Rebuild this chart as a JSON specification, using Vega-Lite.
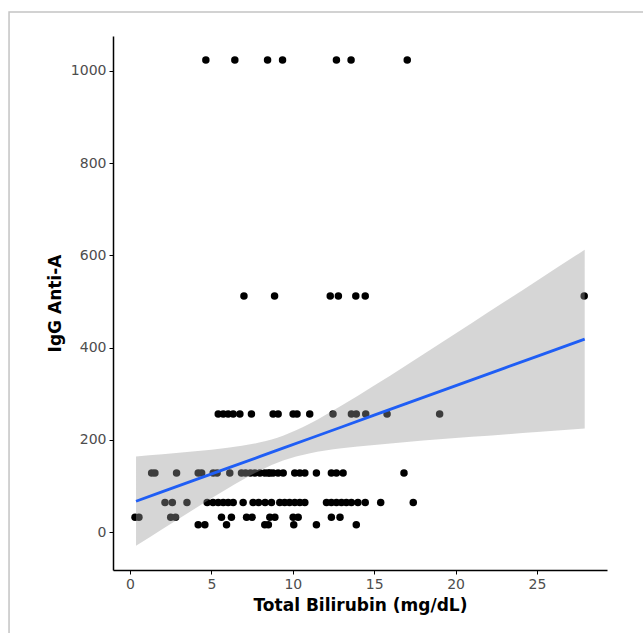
{
  "$schema": "https://vega.github.io/schema/vega-lite/v6.json",
  "autosize": "none",
  "width": 494,
  "height": 534,
  "padding": {"left": 113, "top": 36, "right": 36, "bottom": 63},
  "background": "white",
  "config": {
    "view": {"stroke": null},
    "axis": {
      "grid": false,
      "domainColor": "black",
      "domainWidth": 1.5,
      "tickColor": "black",
      "tickWidth": 1,
      "tickSize": 4,
      "labelColor": "#4d4d4d",
      "labelFont": "DejaVu Sans",
      "labelFontSize": 14,
      "labelPadding": 3,
      "titleFont": "DejaVu Sans",
      "titleFontSize": 17,
      "titleFontWeight": "bold",
      "titleColor": "black",
      "titlePadding": 6
    }
  },
  "datasets": {
    "points": [
      {"bilirubin": 4.66, "igg": 1024}, {"bilirubin": 6.44, "igg": 1024}, {"bilirubin": 8.45, "igg": 1024}, {"bilirubin": 9.37, "igg": 1024}, {"bilirubin": 12.68, "igg": 1024}, {"bilirubin": 13.58, "igg": 1024}, {"bilirubin": 17.03, "igg": 1024},
      {"bilirubin": 7.0, "igg": 512}, {"bilirubin": 8.88, "igg": 512}, {"bilirubin": 12.3, "igg": 512}, {"bilirubin": 12.8, "igg": 512}, {"bilirubin": 13.87, "igg": 512}, {"bilirubin": 14.45, "igg": 512}, {"bilirubin": 27.9, "igg": 512},
      {"bilirubin": 5.42, "igg": 256}, {"bilirubin": 5.73, "igg": 256}, {"bilirubin": 6.03, "igg": 256}, {"bilirubin": 6.34, "igg": 256}, {"bilirubin": 6.75, "igg": 256}, {"bilirubin": 7.46, "igg": 256}, {"bilirubin": 8.79, "igg": 256}, {"bilirubin": 9.1, "igg": 256}, {"bilirubin": 10.02, "igg": 256}, {"bilirubin": 10.26, "igg": 256}, {"bilirubin": 11.04, "igg": 256}, {"bilirubin": 12.47, "igg": 256}, {"bilirubin": 13.6, "igg": 256}, {"bilirubin": 13.9, "igg": 256}, {"bilirubin": 14.48, "igg": 256}, {"bilirubin": 15.79, "igg": 256}, {"bilirubin": 19.02, "igg": 256},
      {"bilirubin": 1.33, "igg": 128}, {"bilirubin": 1.53, "igg": 128}, {"bilirubin": 2.86, "igg": 128}, {"bilirubin": 4.19, "igg": 128}, {"bilirubin": 4.4, "igg": 128}, {"bilirubin": 5.11, "igg": 128}, {"bilirubin": 5.35, "igg": 128}, {"bilirubin": 6.13, "igg": 128}, {"bilirubin": 6.85, "igg": 128}, {"bilirubin": 7.1, "igg": 128}, {"bilirubin": 7.4, "igg": 128}, {"bilirubin": 7.67, "igg": 128}, {"bilirubin": 7.98, "igg": 128}, {"bilirubin": 8.28, "igg": 128}, {"bilirubin": 8.49, "igg": 128}, {"bilirubin": 8.6, "igg": 128}, {"bilirubin": 8.79, "igg": 128}, {"bilirubin": 9.1, "igg": 128}, {"bilirubin": 9.41, "igg": 128}, {"bilirubin": 10.12, "igg": 128}, {"bilirubin": 10.43, "igg": 128}, {"bilirubin": 10.74, "igg": 128}, {"bilirubin": 11.45, "igg": 128}, {"bilirubin": 12.37, "igg": 128}, {"bilirubin": 12.68, "igg": 128}, {"bilirubin": 13.09, "igg": 128}, {"bilirubin": 16.83, "igg": 128},
      {"bilirubin": 2.15, "igg": 64}, {"bilirubin": 2.6, "igg": 64}, {"bilirubin": 3.5, "igg": 64}, {"bilirubin": 4.74, "igg": 64}, {"bilirubin": 5.1, "igg": 64}, {"bilirubin": 5.42, "igg": 64}, {"bilirubin": 5.73, "igg": 64}, {"bilirubin": 6.03, "igg": 64}, {"bilirubin": 6.34, "igg": 64}, {"bilirubin": 6.95, "igg": 64}, {"bilirubin": 7.56, "igg": 64}, {"bilirubin": 7.9, "igg": 64}, {"bilirubin": 8.3, "igg": 64}, {"bilirubin": 8.69, "igg": 64}, {"bilirubin": 9.2, "igg": 64}, {"bilirubin": 9.5, "igg": 64}, {"bilirubin": 9.8, "igg": 64}, {"bilirubin": 10.12, "igg": 64}, {"bilirubin": 10.43, "igg": 64}, {"bilirubin": 10.74, "igg": 64}, {"bilirubin": 12.07, "igg": 64}, {"bilirubin": 12.37, "igg": 64}, {"bilirubin": 12.68, "igg": 64}, {"bilirubin": 12.99, "igg": 64}, {"bilirubin": 13.29, "igg": 64}, {"bilirubin": 13.6, "igg": 64}, {"bilirubin": 14.0, "igg": 64}, {"bilirubin": 14.45, "igg": 64}, {"bilirubin": 15.4, "igg": 64}, {"bilirubin": 17.4, "igg": 64},
      {"bilirubin": 0.31, "igg": 32}, {"bilirubin": 0.55, "igg": 32}, {"bilirubin": 2.5, "igg": 32}, {"bilirubin": 2.8, "igg": 32}, {"bilirubin": 5.62, "igg": 32}, {"bilirubin": 6.23, "igg": 32}, {"bilirubin": 7.16, "igg": 32}, {"bilirubin": 7.5, "igg": 32}, {"bilirubin": 8.59, "igg": 32}, {"bilirubin": 8.9, "igg": 32}, {"bilirubin": 10.02, "igg": 32}, {"bilirubin": 10.33, "igg": 32}, {"bilirubin": 12.37, "igg": 32}, {"bilirubin": 12.9, "igg": 32},
      {"bilirubin": 4.19, "igg": 16}, {"bilirubin": 4.6, "igg": 16}, {"bilirubin": 5.93, "igg": 16}, {"bilirubin": 8.28, "igg": 16}, {"bilirubin": 8.5, "igg": 16}, {"bilirubin": 10.06, "igg": 16}, {"bilirubin": 11.45, "igg": 16}, {"bilirubin": 13.9, "igg": 16}
    ],
    "band": [
      {"bilirubin": 0.37, "fit": 66.7, "lower": -30, "upper": 164},
      {"bilirubin": 2, "fit": 87.5, "lower": 6.5, "upper": 168.5},
      {"bilirubin": 4, "fit": 113, "lower": 51, "upper": 175},
      {"bilirubin": 6, "fit": 138.6, "lower": 94.5, "upper": 182.7},
      {"bilirubin": 8, "fit": 164, "lower": 133.5, "upper": 194.5},
      {"bilirubin": 9.4, "fit": 182, "lower": 155, "upper": 209},
      {"bilirubin": 11, "fit": 202.4, "lower": 170.5, "upper": 234.3},
      {"bilirubin": 13, "fit": 227.9, "lower": 181.6, "upper": 274.2},
      {"bilirubin": 15, "fit": 253.4, "lower": 189, "upper": 317.7},
      {"bilirubin": 17, "fit": 278.9, "lower": 195.3, "upper": 362.5},
      {"bilirubin": 19, "fit": 304.4, "lower": 201, "upper": 407.8},
      {"bilirubin": 21, "fit": 330, "lower": 206.5, "upper": 453.5},
      {"bilirubin": 23, "fit": 355.5, "lower": 211.7, "upper": 499.3},
      {"bilirubin": 25, "fit": 381, "lower": 216.8, "upper": 545.2},
      {"bilirubin": 27.93, "fit": 418.4, "lower": 224.4, "upper": 612.4}
    ]
  },
  "layer": [
    {
      "mark": {"type": "rect", "fill": null, "stroke": "#c4c4c4", "strokeWidth": 1.5, "clip": false},
      "data": {"values": [{}]},
      "encoding": {
        "x": {"datum": -7.43, "type": "quantitative", "scale": {"domain": [-1.044, 29.3], "nice": false, "zero": false}},
        "x2": {"datum": 40},
        "y": {"datum": 1128, "type": "quantitative", "scale": {"domain": [-82.4, 1075.9], "nice": false, "zero": false}},
        "y2": {"datum": -400}
      }
    },
    {
      "data": {"name": "points"},
      "mark": {"type": "circle", "color": "black", "opacity": 1, "size": 56},
      "encoding": {
        "x": {"field": "bilirubin", "type": "quantitative", "title": "Total Bilirubin (mg/dL)", "scale": {"domain": [-1.044, 29.3], "nice": false, "zero": false}, "axis": {"values": [0, 5, 10, 15, 20, 25]}},
        "y": {"field": "igg", "type": "quantitative", "title": "IgG Anti-A", "scale": {"domain": [-82.4, 1075.9], "nice": false, "zero": false}, "axis": {"values": [0, 200, 400, 600, 800, 1000], "format": "d"}}
      }
    },
    {
      "data": {"name": "band"},
      "mark": {"type": "area", "color": "#999999", "opacity": 0.4, "interpolate": "monotone"},
      "encoding": {
        "x": {"field": "bilirubin", "type": "quantitative"},
        "y": {"field": "lower", "type": "quantitative"},
        "y2": {"field": "upper"}
      }
    },
    {
      "data": {"name": "band"},
      "mark": {"type": "line", "color": "#1f5ef5", "strokeWidth": 2.8},
      "encoding": {
        "x": {"field": "bilirubin", "type": "quantitative"},
        "y": {"field": "fit", "type": "quantitative"}
      }
    }
  ]
}
